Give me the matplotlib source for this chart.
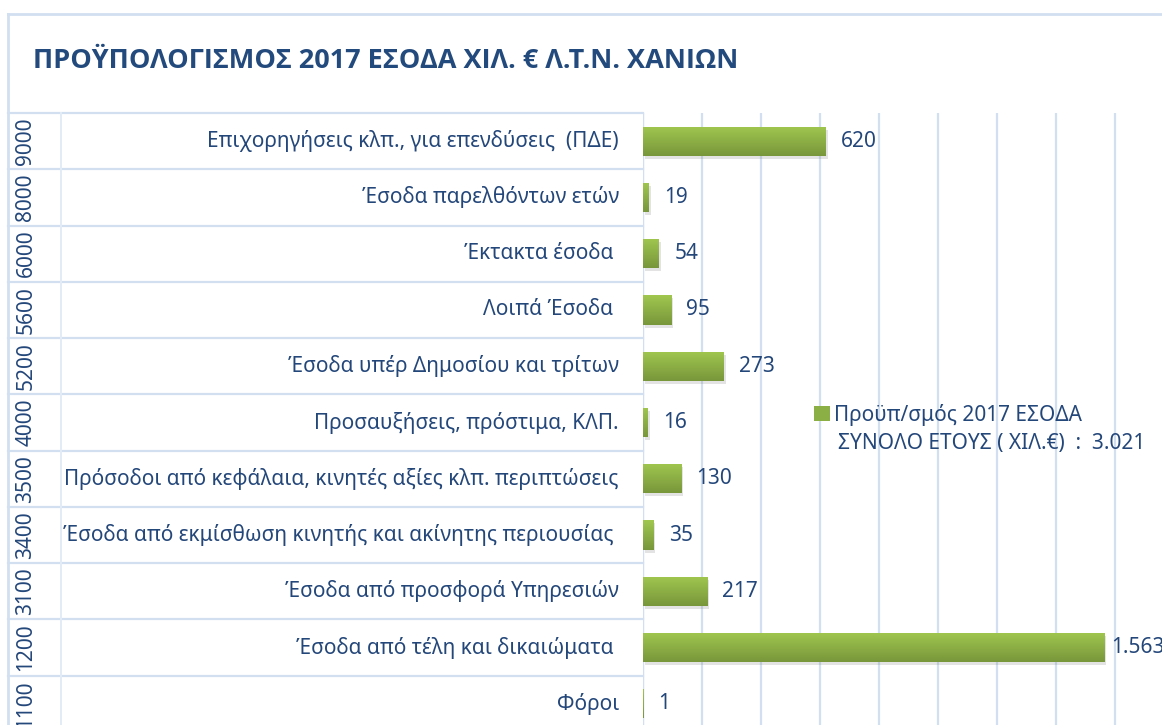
import numpy as np
import matplotlib.pyplot as plt
import matplotlib.transforms as mtransforms
from matplotlib.lines import Line2D
from matplotlib.patches import Patch

plt.rcParams['font.family'] = ['Noto Sans', 'DejaVu Sans']

# δεδομένα (χιλ. €), από πάνω προς τα κάτω
codes = ['9000', '8000', '6000', '5600', '5200', '4000', '3500', '3400', '3100', '1200', '1100']
labels = ['Επιχορηγήσεις κλπ., για επενδύσεις  (ΠΔΕ)',
          'Έσοδα παρελθόντων ετών',
          'Έκτακτα έσοδα ',
          'Λοιπά Έσοδα ',
          'Έσοδα υπέρ Δημοσίου και τρίτων',
          'Προσαυξήσεις, πρόστιμα, ΚΛΠ.',
          'Πρόσοδοι από κεφάλαια, κινητές αξίες κλπ. περιπτώσεις',
          'Έσοδα από εκμίσθωση κινητής και ακίνητης περιουσίας ',
          'Έσοδα από προσφορά Υπηρεσιών',
          'Έσοδα από τέλη και δικαιώματα ',
          'Φόροι']
values = [620, 19, 54, 95, 273, 16, 130, 35, 217, 1563, 1]
value_labels = ['620', '19', '54', '95', '273', '16', '130', '35', '217', '1.563', '1']
title = 'ΠΡΟΫΠΟΛΟΓΙΣΜΟΣ 2017 ΕΣΟΔΑ ΧΙΛ. € Λ.Τ.Ν. ΧΑΝΙΩΝ'
legend_line1 = 'Προϋπ/σμός 2017 ΕΣΟΔΑ'
legend_line2 = 'ΣΥΝΟΛΟ ΕΤΟΥΣ ( ΧΙΛ.€)  :  3.021'

W, H = 1162, 725
text_col = '#24477A'
line_col = '#D2DFF0'
green_top = np.array([0.63, 0.78, 0.31])
green_bot = np.array([0.47, 0.59, 0.23])
fs = 15

fig = plt.figure(figsize=(W / 100, H / 100), dpi=100)
fig.patch.set_facecolor('white')

# η περιοχή του γραφήματος (κόβεται κάτω και δεξιά όπως στο πρωτότυπο)
x0, x1 = 643, 1174
y_top, y_bot = 113, 732
ax = fig.add_axes([x0 / W, 1 - y_bot / H, (x1 - x0) / W, (y_bot - y_top) / H])
for s in ax.spines.values():
    s.set_visible(False)
ax.set_xticks(np.arange(0, 1801, 200))
ax.set_yticks([])
ax.tick_params(axis='x', length=0, labelbottom=False)
ax.grid(axis='x', color=line_col, lw=1.6)
ax.set_axisbelow(True)
ax.axvline(0, color=line_col, lw=1.6, zorder=1)

ypos = np.arange(len(values))
bh = 0.52
shadow_tr = mtransforms.offset_copy(ax.transData, fig=fig, x=2, y=-3, units='dots')
ax.barh(ypos, values, height=bh, color='#777777', alpha=0.2, transform=shadow_tr, zorder=2)
bars = ax.barh(ypos, values, height=bh, color=green_top, zorder=3)

# διαβάθμιση χρώματος στις μπάρες
grad = np.linspace(0, 1, 64)[:, None, None]
grad_img = green_top * (1 - grad) + green_bot * grad
for b, v, y in zip(bars, values, ypos):
    im = ax.imshow(grad_img, extent=[0, v, y + bh / 2, y - bh / 2], aspect='auto',
                   zorder=4, interpolation='bilinear')
    im.set_clip_path(b)

for y, v, lab in zip(ypos, values, value_labels):
    off = 5 if v > 1500 else 11
    ax.annotate(lab, (v, y), xytext=(off, 0), textcoords='offset points',
                va='center', ha='left', fontsize=fs, color=text_col, clip_on=False)

ax.set_xlim(0, 1800)
ax.set_ylim(len(values) - 0.5, -0.5)

# πίνακας κατηγοριών αριστερά
tr = mtransforms.blended_transform_factory(fig.transFigure, ax.transData)
for k in range(len(values) + 1):
    ax.add_line(Line2D([8 / W, x0 / W], [k - 0.5, k - 0.5], transform=tr,
                       color=line_col, lw=1.6, clip_on=False))
ax.add_line(Line2D([61 / W, 61 / W], [-0.5, len(values) - 0.5], transform=tr,
                   color='#E3EBF6', lw=1.4, clip_on=False))
for y, c, lab in zip(ypos, codes, labels):
    ax.text(26 / W, y, c, transform=tr, rotation=90, ha='center', va='center',
            fontsize=fs, color=text_col, clip_on=False)
    ax.text(619 / W, y, lab, transform=tr, ha='right', va='center',
            fontsize=fs, color=text_col, clip_on=False)

# πλαίσιο
fig.add_artist(Line2D([8 / W, 1], [1 - 14 / H, 1 - 14 / H], color=line_col, lw=2))
fig.add_artist(Line2D([8 / W, 8 / W], [0, 1 - 14 / H], color=line_col, lw=2))

fig.text(33 / W, 1 - 61 / H, title, ha='left', va='center', fontsize=19.5,
         fontweight='bold', color='#234A7C', family=['Open Sans', 'DejaVu Sans'])

ax.legend(handles=[Patch(facecolor=(green_top + green_bot) / 2)], labels=[legend_line1],
          loc='center left', bbox_to_anchor=(814 / W, 1 - 415 / H),
          bbox_transform=fig.transFigure, frameon=False, fontsize=fs,
          labelcolor=text_col, handlelength=0.75, handleheight=0.75,
          handletextpad=0.2, borderpad=0, borderaxespad=0)
fig.text(838 / W, 1 - 444 / H, legend_line2, ha='left', va='center',
         fontsize=fs, color=text_col)

fig.savefig('out.png', dpi=100)
